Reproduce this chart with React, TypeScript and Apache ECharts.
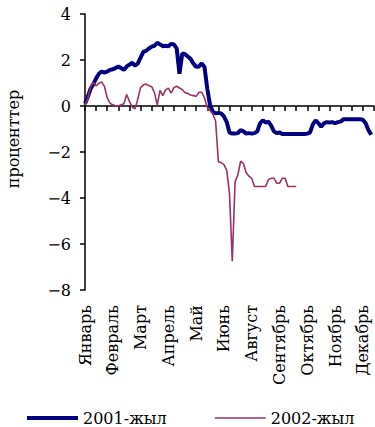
import React, { useEffect, useRef } from 'react';
import * as echarts from 'echarts';

const monthLabels = ['Январь', 'Февраль', 'Март', 'Апрель', 'Май', 'Июнь', 'Август', 'Сентябрь', 'Октябрь', 'Ноябрь', 'Декабрь'];

const series2001 = [
  0.1, 0.4, 0.75, 0.95, 1.2, 1.4, 1.5, 1.45, 1.5, 1.57,
  1.6, 1.65, 1.72, 1.65, 1.57, 1.72, 1.8, 1.88, 1.75, 1.85,
  2.1, 2.35, 2.4, 2.5, 2.58, 2.62, 2.75, 2.68, 2.6, 2.62,
  2.6, 2.7, 2.68, 2.5, 1.4, 2.28, 2.25, 2.15, 2.05, 1.85,
  1.7, 1.72, 1.85, 1.7, 0.75, 0.05, -0.25, -0.32, -0.3, -0.32,
  -0.45, -0.7, -1.15, -1.2, -1.2, -1.18, -1.05, -1.1, -1.2, -1.18,
  -1.2, -1.18, -1.1, -0.75, -0.62, -0.72, -0.68, -0.85, -1.1, -1.18,
  -1.15, -1.22, -1.22, -1.22, -1.22, -1.22, -1.22, -1.22, -1.22, -1.22,
  -1.2, -1.15, -0.8, -0.62, -0.75, -0.9, -0.75, -0.7, -0.72, -0.7,
  -0.75, -0.7, -0.68, -0.58, -0.58, -0.58, -0.58, -0.58, -0.58, -0.58,
  -0.6, -0.75, -1.05, -1.25, null,
];

const series2002 = [
  0.05, 0.3, 0.85, 1.02, 0.88, 0.98, 1.05, 0.85, 0.35, 0.12,
  0.05, 0.0, 0.0, 0.05, 0.1, 0.5, 0.2, -0.05, -0.12, 0.3,
  0.8, 0.92, 0.95, 0.88, 0.84, 0.58, 0.05, 0.68, 0.45, 0.7,
  0.78, 0.56, 0.8, 0.86, 0.78, 0.72, 0.58, 0.55, 0.48, 0.45,
  0.42, 0.6, 0.6, 0.35, -0.05, -0.2, -0.35, -0.65, -2.42, -2.46,
  -2.55, -2.8, -3.8, -6.75, -3.3, -3.0, -2.4, -2.5, -2.9, -3.05,
  -3.15, -3.5, -3.5, -3.5, -3.5, -3.5, -3.2, -3.14, -3.14, -3.36,
  -3.36, -3.14, -3.14, -3.5, -3.5, -3.5, -3.5,
];

const categories = series2001.map((_, i) => String(i));
const FONT = 'DejaVu Serif';

export default function App() {
  const ref = useRef<HTMLDivElement>(null);
  useEffect(() => {
    document.body.style.margin = '0';
    const chart = echarts.init(ref.current!, null, { renderer: 'svg' });
    chart.setOption({
      animation: false,
      backgroundColor: '#fff',
      textStyle: { fontFamily: FONT, color: '#000' },
      grid: { left: 85, right: 1, top: 14, bottom: 137, containLabel: false },
      legend: {
        left: 22,
        top: 405,
        itemWidth: 51,
        itemHeight: 16,
        itemGap: 48,
        itemStyle: { borderWidth: 0 },
        textStyle: { fontFamily: FONT, fontSize: 16, color: '#000' },
        data: [
          { name: '2001-жыл', icon: 'path://M0 0H51V4H0Z' },
          { name: '2002-жыл', icon: 'path://M0 0H51V1.6H0Z' },
        ],
      },
      xAxis: [
        {
          type: 'category',
          data: categories,
          boundaryGap: false,
          position: 'top',
          axisLine: { onZero: true, lineStyle: { color: '#000', width: 1.5 } },
          axisTick: { show: true, inside: true, interval: 3, length: 5, lineStyle: { color: '#000', width: 1.5 } },
          axisLabel: { show: false },
          splitLine: { show: false },
        },
        {
          type: 'category',
          data: categories,
          boundaryGap: false,
          position: 'bottom',
          axisLine: { show: false, onZero: false },
          axisTick: { show: false },
          axisLabel: {
            show: true,
            interval: 9,
            rotate: 90,
            margin: 15,
            fontFamily: FONT,
            fontSize: 16,
            color: '#000',
            formatter: (_v: string, idx: number) => monthLabels[Math.round(idx / 10)] ?? '',
          },
          splitLine: { show: false },
        },
      ],
      yAxis: {
        type: 'value',
        min: -8,
        max: 4,
        interval: 2,
        axisLine: { show: true, lineStyle: { color: '#000', width: 1.5 } },
        axisTick: { show: true, length: 5, lineStyle: { color: '#000', width: 1.5 } },
        axisLabel: {
          margin: 14,
          fontFamily: FONT,
          fontSize: 16,
          color: '#000',
          formatter: (v: number) => (v < 0 ? '\u2212' + Math.abs(v) : String(v)),
        },
        splitLine: { show: false },
      },
      graphic: [
        {
          type: 'text',
          x: 13,
          y: 139,
          rotation: Math.PI / 2,
          style: {
            text: 'проценттер',
            fontFamily: FONT,
            fontSize: 16,
            fill: '#000',
            align: 'center',
            verticalAlign: 'middle',
          },
        },
      ],
      series: [
        {
          name: '2001-жыл',
          type: 'line',
          xAxisIndex: 0,
          data: series2001,
          symbol: 'none',
          showSymbol: false,
          lineStyle: { color: '#000080', width: 4 },
          itemStyle: { color: '#000080' },
          z: 3,
        },
        {
          name: '2002-жыл',
          type: 'line',
          xAxisIndex: 0,
          data: series2002,
          symbol: 'none',
          showSymbol: false,
          lineStyle: { color: '#993366', width: 1.6 },
          itemStyle: { color: '#993366' },
          z: 4,
        },
      ],
    });
    return () => chart.dispose();
  }, []);
  return <div ref={ref} style={{ width: 375, height: 427 }} />;
}
